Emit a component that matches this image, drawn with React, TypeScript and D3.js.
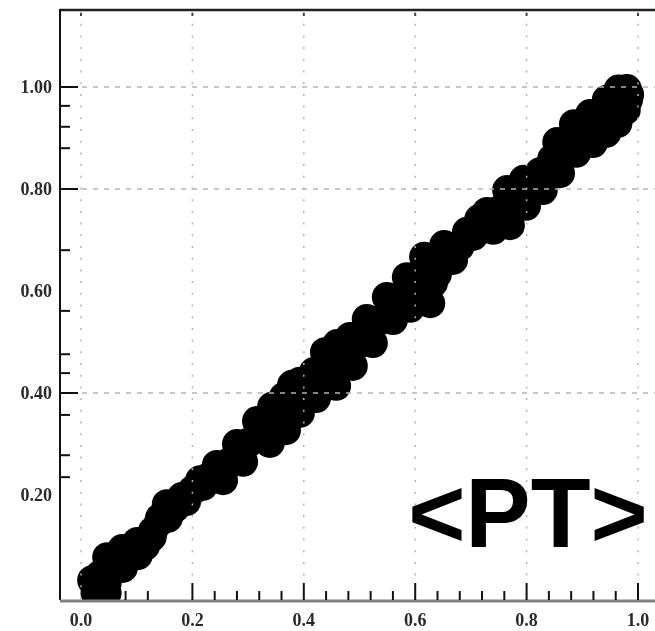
import React from "react";
import * as d3 from "d3";

// Scatter of observed vs. expected values (points along the upper, middle and lower part of the cloud)
const upperPoints: [number, number][] = [
  [0.020, 0.033], [0.047, 0.078], [0.074, 0.094], [0.101, 0.108], [0.127, 0.118],
  [0.140, 0.147], [0.154, 0.182], [0.181, 0.196], [0.214, 0.229], [0.244, 0.259],
  [0.280, 0.300], [0.316, 0.345], [0.343, 0.373], [0.364, 0.392], [0.379, 0.416],
  [0.393, 0.422], [0.418, 0.441], [0.438, 0.480], [0.460, 0.496], [0.483, 0.510],
  [0.513, 0.545], [0.549, 0.588], [0.585, 0.627], [0.616, 0.667], [0.652, 0.690],
  [0.693, 0.716], [0.715, 0.741], [0.729, 0.755], [0.765, 0.798], [0.795, 0.818],
  [0.824, 0.833], [0.846, 0.859], [0.855, 0.892], [0.885, 0.927], [0.914, 0.947],
  [0.944, 0.975], [0.965, 0.995], [0.980, 0.996], [0.984, 0.985],
];

const middlePoints: [number, number][] = [
  [0.034, 0.043], [0.061, 0.061], [0.088, 0.082], [0.115, 0.100], [0.142, 0.155],
  [0.169, 0.175], [0.201, 0.210], [0.232, 0.237], [0.268, 0.265], [0.303, 0.304],
  [0.330, 0.327], [0.352, 0.347], [0.381, 0.375], [0.406, 0.400], [0.434, 0.439],
  [0.470, 0.461], [0.501, 0.498], [0.537, 0.543], [0.573, 0.584], [0.603, 0.616],
  [0.639, 0.633], [0.680, 0.688], [0.716, 0.731], [0.752, 0.759], [0.783, 0.773],
  [0.811, 0.800], [0.842, 0.845], [0.873, 0.878], [0.901, 0.908], [0.932, 0.931],
  [0.955, 0.955], [0.975, 0.967],
];

const lowerPoints: [number, number][] = [
  [0.026, 0.008], [0.036, 0.008], [0.046, 0.008], [0.046, 0.027], [0.075, 0.057],
  [0.102, 0.082], [0.129, 0.129], [0.156, 0.155], [0.189, 0.188], [0.219, 0.218],
  [0.255, 0.229], [0.291, 0.265], [0.339, 0.302], [0.368, 0.327], [0.393, 0.361],
  [0.422, 0.390], [0.458, 0.414], [0.488, 0.453], [0.524, 0.498], [0.560, 0.543],
  [0.591, 0.567], [0.627, 0.576], [0.632, 0.616], [0.668, 0.661], [0.704, 0.708],
  [0.740, 0.720], [0.770, 0.729], [0.799, 0.767], [0.829, 0.798], [0.860, 0.831],
  [0.889, 0.871], [0.919, 0.890], [0.943, 0.910], [0.963, 0.929], [0.978, 0.955],
  [0.982, 0.975],
];

// Axis ticks and labels
const xLabelTicks = [0, 0.2, 0.4, 0.6, 0.8, 1.0];
const xMajorTicks = [0.2, 0.4, 0.6, 0.8, 1.0];
const xMinorTicks = [
  0.08, 0.12, 0.24, 0.28, 0.32, 0.36, 0.44, 0.48, 0.52, 0.56,
  0.64, 0.68, 0.72, 0.76, 0.84, 0.88, 0.92, 0.96,
];
const yLabelTicks = [1.0, 0.8, 0.6, 0.4, 0.2];
const yMajorTicks = [1.0, 0.8, 0.4];
const yMinorTicks = [0.963, 0.922, 0.88, 0.68, 0.561, 0.476, 0.439, 0.357, 0.278, 0.235];
const xGridLines = [0, 0.2, 0.4, 0.6, 0.8, 1.0];
const yGridLines = [1.0, 0.8, 0.4];

const W = 655;
const H = 631;
const frame = { left: 60, right: 660, top: 10, bottom: 600 };

export default function App() {
  const x = d3.scaleLinear().domain([0, 1]).range([81, 638]);
  const y = d3.scaleLinear().domain([0, 1]).range([597, 87]);
  const allPoints = [...upperPoints, ...middlePoints, ...lowerPoints];
  const r = 15;

  return (
    <svg
      width={W}
      height={H}
      style={{ position: "absolute", left: 0, top: 0, background: "#fff" }}
    >
      <defs>
        <clipPath id="plot-clip">
          <rect
            x={frame.left}
            y={frame.top}
            width={frame.right - frame.left}
            height={frame.bottom - frame.top}
          />
        </clipPath>
        <filter id="soft" x="-10%" y="-30%" width="120%" height="160%">
          <feGaussianBlur stdDeviation="0.7" />
        </filter>
      </defs>

      {/* data points */}
      <g clipPath="url(#plot-clip)">
        {allPoints.map((p, i) => (
          <circle key={i} cx={x(p[0])} cy={y(p[1])} r={r} fill="#000" />
        ))}
      </g>

      {/* grid */}
      <g>
        {xGridLines.map((v) => (
          <line
            key={"gx" + v}
            x1={x(v)}
            x2={x(v)}
            y1={frame.top + 2}
            y2={frame.bottom}
            stroke="#b4b4b4"
            strokeWidth={1.5}
            strokeDasharray="2 9.7"
          />
        ))}
        {xGridLines.map((v) => (
          <rect key={"gd" + v} x={x(v) - 1} y={frame.top + 3} width={2} height={3} fill="#444" />
        ))}
        {yGridLines.map((v) => (
          <line
            key={"gy" + v}
            x1={frame.left}
            x2={W}
            y1={y(v)}
            y2={y(v)}
            stroke="#b4b4b4"
            strokeWidth={1.5}
            strokeDasharray="5 6"
          />
        ))}
      </g>

      {/* frame */}
      <line x1={frame.left} x2={W} y1={frame.top} y2={frame.top} stroke="#222" strokeWidth={2.5} />
      <line x1={frame.left} x2={frame.left} y1={frame.top - 1} y2={frame.bottom} stroke="#111" strokeWidth={2} />
      <line x1={frame.left} x2={W} y1={frame.bottom + 1} y2={frame.bottom + 1} stroke="#808080" strokeWidth={3} />

      {/* y ticks */}
      {yMajorTicks.map((v) => (
        <line key={"ym" + v} x1={frame.left} x2={frame.left + 18} y1={y(v)} y2={y(v)} stroke="#111" strokeWidth={2} />
      ))}
      {yMinorTicks.map((v) => (
        <line key={"yn" + v} x1={frame.left} x2={frame.left + 10} y1={y(v)} y2={y(v)} stroke="#111" strokeWidth={2} />
      ))}

      {/* x ticks */}
      {xMajorTicks.map((v) => (
        <line key={"xm" + v} x1={x(v)} x2={x(v)} y1={frame.bottom} y2={frame.bottom - 17} stroke="#111" strokeWidth={2} />
      ))}
      {xMinorTicks.map((v) => (
        <line key={"xn" + v} x1={x(v)} x2={x(v)} y1={frame.bottom} y2={frame.bottom - 9} stroke="#111" strokeWidth={2} />
      ))}

      {/* tick labels */}
      <g
        filter="url(#soft)"
        fontFamily="'Liberation Serif', 'DejaVu Serif', serif"
        fontWeight="bold"
        fontSize={18}
        fill="#2a2a2a"
      >
        {yLabelTicks.map((v) => (
          <text key={"yl" + v} x={52} y={y(v)} dy="0.35em" textAnchor="end">
            {v.toFixed(2)}
          </text>
        ))}
        {xLabelTicks.map((v) => (
          <text key={"xl" + v} x={x(v)} y={620} dy="0.35em" textAnchor="middle">
            {v.toFixed(1)}
          </text>
        ))}
      </g>

      {/* panel tag */}
      <text
        x={528}
        y={547}
        textAnchor="middle"
        fontFamily="'Liberation Sans', Arial, sans-serif"
        fontWeight="bold"
        fontSize={98}
        fill="#000"
      >
        {"<PT>"}
      </text>
    </svg>
  );
}
